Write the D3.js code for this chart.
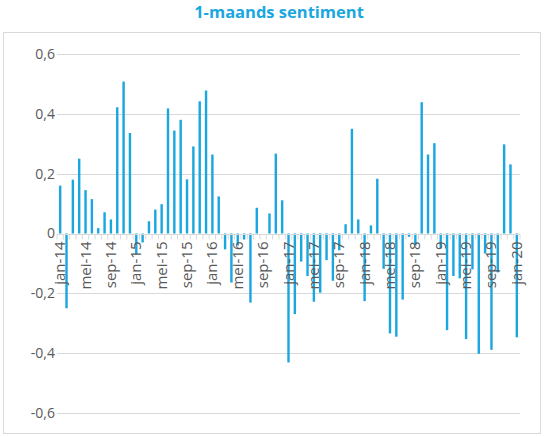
<!DOCTYPE html>
<html>
<head>
<meta charset="utf-8">
<script src="https://cdn.jsdelivr.net/npm/d3@7"></script>
<style>
  body { margin: 0; background: #fff; }
  svg { display: block; font-family: "Open Sans", "Noto Sans", sans-serif; }
</style>
</head>
<body>
<svg id="chart" width="554" height="437"></svg>
<script>
const title = "1-maands sentiment";

const months = ["jan", "feb", "mrt", "apr", "mei", "jun", "jul", "aug", "sep", "okt", "nov", "dec"];
const years = ["14", "15", "16", "17", "18", "19", "20"];

// one value per month, jan-14 .. jan-20
const values = [
  0.16, -0.25, 0.18, 0.25, 0.145, 0.115, 0.018, 0.071, 0.047, 0.422, 0.508, 0.336,
  -0.07, -0.03, 0.041, 0.08, 0.098, 0.418, 0.344, 0.38, 0.181, 0.291, 0.442, 0.478,
  0.264, 0.124, -0.053, -0.164, -0.04, -0.02, -0.231, 0.086, 0, 0.067, 0.267, 0.111,
  -0.431, -0.269, -0.094, -0.142, -0.228, -0.198, -0.089, -0.158, -0.056, 0.031, 0.35, 0.047,
  -0.226, 0.027, 0.183, -0.118, -0.334, -0.345, -0.221, -0.011, -0.04, 0.439, 0.264, 0.302,
  -0.05, -0.323, -0.142, -0.15, -0.353, -0.12, -0.402, -0.067, -0.389, -0.13, 0.298, 0.231,
  -0.347
];

const categories = values.map((v, i) => months[i % 12] + "-" + years[Math.floor(i / 12)]);
const yTicks = [-0.6, -0.4, -0.2, 0, 0.2, 0.4, 0.6];

const svg = d3.select("#chart");
const blue = "#1aa7e0";
const grid = "#d9d9d9";

const margin = { left: 57, right: 34, top: 54, bottom: 24 };
const W = 554, H = 437;

svg.append("rect")
  .attr("x", 3.5).attr("y", 32.5)
  .attr("width", 537).attr("height", 401)
  .attr("fill", "#fff").attr("stroke", grid);

svg.append("text")
  .attr("x", 279).attr("y", 18)
  .attr("text-anchor", "middle")
  .attr("fill", blue)
  .attr("font-weight", "bold")
  .attr("font-size", 16.5)
  .text(title);

const x = d3.scaleBand()
  .domain(categories)
  .range([margin.left, W - margin.right])
  .paddingInner(0.62)
  .paddingOuter(0.31);

const y = d3.scaleLinear()
  .domain([-0.6, 0.6])
  .range([H - margin.bottom, margin.top]);

const fmt = d => d3.format(".1f")(d).replace(".", ",").replace("−", "-");

// gridlines
svg.append("g")
  .selectAll("line")
  .data(yTicks.filter(d => d !== 0))
  .join("line")
  .attr("x1", margin.left).attr("x2", W - margin.right)
  .attr("y1", d => Math.round(y(d)) + 0.5).attr("y2", d => Math.round(y(d)) + 0.5)
  .attr("stroke", grid);

// y labels
svg.append("g")
  .selectAll("text")
  .data(yTicks)
  .join("text")
  .attr("x", 55)
  .attr("y", d => y(d))
  .attr("dy", "0.35em")
  .attr("text-anchor", "end")
  .attr("font-size", 14)
  .attr("fill", "#595959")
  .text(d => d === 0 ? "0" : fmt(d));

// bars
svg.append("g")
  .selectAll("rect")
  .data(values)
  .join("rect")
  .attr("x", (d, i) => x(categories[i]))
  .attr("width", x.bandwidth())
  .attr("y", d => y(Math.max(0, d)))
  .attr("height", d => Math.abs(y(d) - y(0)))
  .attr("fill", blue);

// zero axis with minor ticks between categories
const y0 = Math.round(y(0)) + 0.5;
const step = x.step();
const axis = svg.append("g");
axis.append("line")
  .attr("x1", margin.left).attr("x2", W - margin.right)
  .attr("y1", y0).attr("y2", y0)
  .attr("stroke", grid);
axis.selectAll("line.tick")
  .data(d3.range(categories.length + 1))
  .join("line")
  .attr("class", "tick")
  .attr("x1", i => margin.left + i * step)
  .attr("x2", i => margin.left + i * step)
  .attr("y1", y0).attr("y2", y0 + 5)
  .attr("stroke", grid);

// x labels every 4 months, rotated
axis.selectAll("text")
  .data(categories.filter((c, i) => i % 4 === 0))
  .join("text")
  .attr("transform", c => `translate(${x(c) + x.bandwidth() / 2 + 5},${y0 + 7}) rotate(-90)`)
  .attr("text-anchor", "end")
  .attr("font-size", 15)
  .attr("fill", "#595959")
  .text(c => c);
</script>
</body>
</html>
